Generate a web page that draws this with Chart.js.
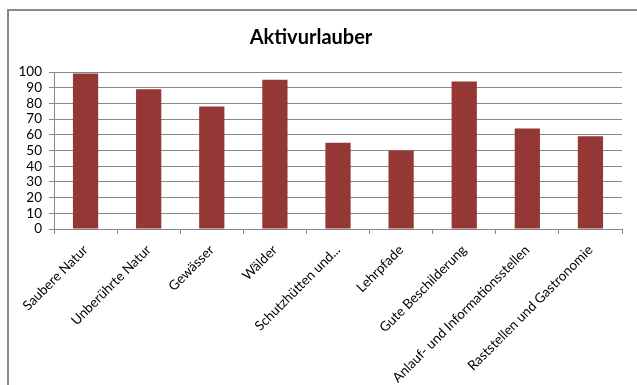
<!DOCTYPE html>
<html>
<head>
<meta charset="utf-8">
<script src="https://cdn.jsdelivr.net/npm/chart.js@4/dist/chart.umd.min.js"></script>
<style>
  html, body { margin: 0; padding: 0; background: #fff; overflow: hidden; }
  #wrap { position: relative; width: 637px; height: 385px; }
  #frame {
    position: absolute; left: 7px; top: 9px; width: 700px; height: 500px;
    border-top: 2px solid #8a8a8a; border-left: 2px solid #8a8a8a;
    box-sizing: border-box; pointer-events: none;
  }
  canvas { position: absolute; left: 0; top: 0; }
</style>
</head>
<body>
<div id="wrap">
  <canvas id="c" width="637" height="385"></canvas>
  <div id="frame"></div>
</div>
<script>
// Kategorien und Werte
const categories = [
  'Saubere Natur',
  'Unberührte Natur',
  'Gewässer',
  'Wälder',
  'Schutzhütten und...',
  'Lehrpfade',
  'Gute Beschilderung',
  'Anlauf- und Informationsstellen',
  'Raststellen und Gastronomie'
];
const values = [99, 89, 78, 95, 55, 50, 94, 64, 59];
const yTicks = [0, 10, 20, 30, 40, 50, 60, 70, 80, 90, 100];

const font = "Lato, 'Open Sans', sans-serif";
const PLOT_LEFT = 54;
const PLOT_BOTTOM = 229;
const H = 385;

new Chart(document.getElementById('c'), {
  type: 'bar',
  data: {
    labels: categories,
    datasets: [{
      data: values,
      backgroundColor: '#953735',
      borderWidth: 0,
      barPercentage: 0.4,
      categoryPercentage: 1.0
    }]
  },
  options: {
    responsive: false,
    animation: false,
    layout: { padding: { left: 0, right: 15, top: 0, bottom: 0 } },
    plugins: {
      legend: { display: false },
      tooltip: { enabled: false },
      title: {
        display: true,
        text: 'Aktivurlauber',
        color: '#000',
        font: { family: font, size: 20, weight: 'bold' },
        padding: { top: 26, bottom: 22 }
      }
    },
    scales: {
      x: {
        grid: {
          offset: true,
          drawOnChartArea: false,
          drawTicks: true,
          tickLength: 5,
          color: '#868686'
        },
        border: { color: '#868686', width: 1 },
        ticks: {
          color: '#000',
          font: { family: font, size: 13.5 },
          minRotation: 45,
          maxRotation: 45,
          autoSkip: false,
          padding: 8
        },
        afterFit(scale) { scale.height = H - PLOT_BOTTOM; }
      },
      y: {
        min: 0,
        max: 100,
        afterBuildTicks(scale) { scale.ticks = yTicks.map(v => ({ value: v })); },
        grid: {
          color: '#868686',
          drawTicks: true,
          tickLength: 5
        },
        border: { color: '#868686', width: 1 },
        ticks: {
          color: '#000',
          font: { family: font, size: 13.5 },
          autoSkip: false,
          padding: 7
        },
        afterFit(scale) { scale.width = PLOT_LEFT; }
      }
    }
  }
});
</script>
</body>
</html>
